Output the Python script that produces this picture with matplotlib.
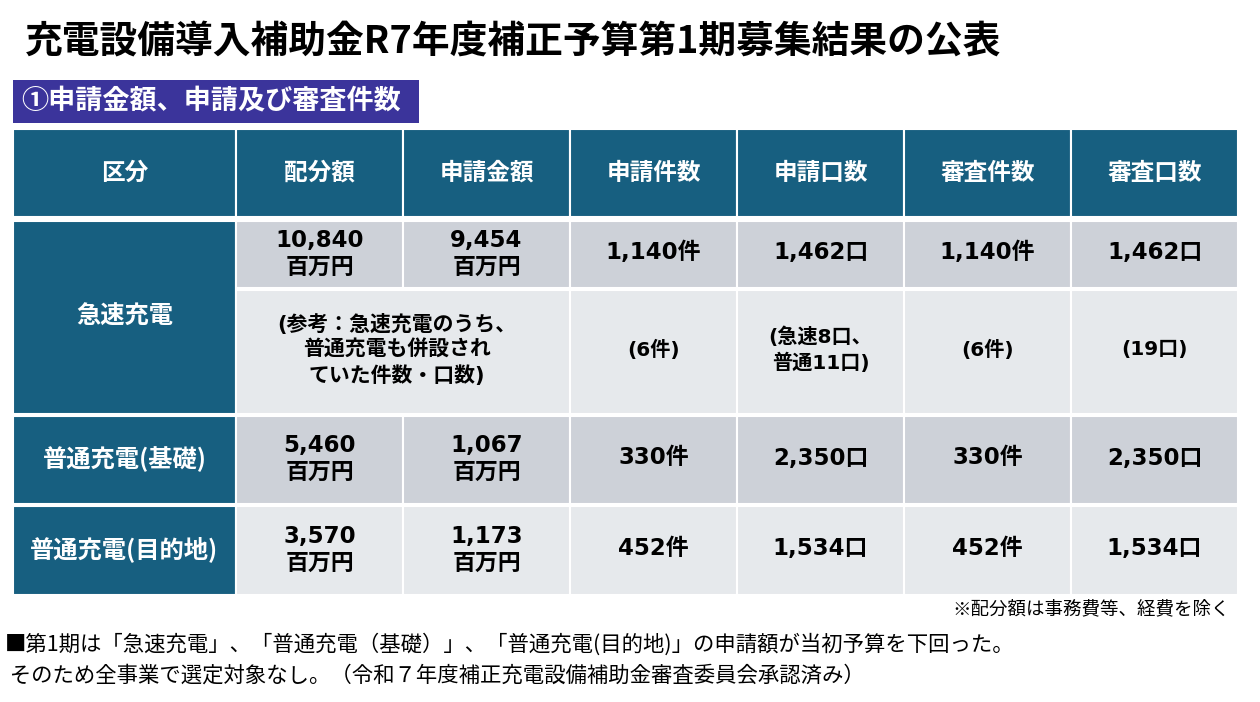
import matplotlib.pyplot as plt
from matplotlib.patches import Rectangle

# ---- data ----
title = "充電設備導入補助金R7年度補正予算第1期募集結果の公表"
section = "①申請金額、申請及び審査件数"
headers = ["区分", "配分額", "申請金額", "申請件数", "申請口数", "審査件数", "審査口数"]
row_labels = ["急速充電", "普通充電(基礎)", "普通充電(目的地)"]
unit = "百万円"
allocation = ["10,840", "5,460", "3,570"]
applied_amount = ["9,454", "1,067", "1,173"]
applied_cases = ["1,140件", "330件", "452件"]
applied_ports = ["1,462口", "2,350口", "1,534口"]
review_cases = ["1,140件", "330件", "452件"]
review_ports = ["1,462口", "2,350口", "1,534口"]
ref_label = ["(参考：急速充電のうち、", "普通充電も併設され", "ていた件数・口数)"]
ref_values = [["(6件)"], ["(急速8口、", "普通11口)"], ["(6件)"], ["(19口)"]]
note = "※配分額は事務費等、経費を除く"
footer = ["■第1期は「急速充電」、「普通充電（基礎）」、「普通充電(目的地)」の申請額が当初予算を下回った。",
          " そのため全事業で選定対象なし。（令和７年度補正充電設備補助金審査委員会承認済み）"]

# ---- layout (pixels) ----
col_edges = [13, 236, 403, 570, 737, 904, 1071, 1238]
header_rows = (129, 217)
row_spans = [(221, 288), (416, 504), (506, 595)]
ref_span = (290, 414)

TEAL = '#175f80'
PURPLE = '#3b349b'
GRAY_DARK = '#cdd1d8'
GRAY_LIGHT = '#e6e9ec'
BODY_FONT = ['DejaVu Sans', 'Noto Sans CJK JP']
CJK = ['Noto Sans CJK JP', 'DejaVu Sans']

fig = plt.figure(figsize=(12.6, 7.02), dpi=100)
ax = fig.add_axes([0, 0, 1, 1])
ax.set_xlim(0, 1260)
ax.set_ylim(702, 0)
ax.axis('off')


def cell(x0, x1, y0, y1, color):
    ax.add_patch(Rectangle((x0, y0), x1 - x0, y1 - y0, facecolor=color,
                           edgecolor='white', linewidth=1.5))


def lines(xc, yc, texts, size, gap, color='black', family=BODY_FONT):
    n = len(texts)
    for i, t in enumerate(texts):
        y = yc + (i - (n - 1) / 2) * gap
        ax.text(xc, y, t, ha='center', va='center', fontsize=size,
                fontweight='bold', color=color, family=family)


ax.text(25, 41, title, ha='left', va='center', fontsize=27.2, fontweight='bold',
        family=CJK, color='black')

ax.add_patch(Rectangle((13, 80), 406, 43, facecolor=PURPLE, edgecolor='none'))
ax.text(21, 100, section, ha='left', va='center', fontsize=19.5, fontweight='bold',
        family=CJK, color='white')

# header
for j, h in enumerate(headers):
    cell(col_edges[j], col_edges[j + 1], *header_rows, TEAL)
    lines((col_edges[j] + col_edges[j + 1]) / 2, sum(header_rows) / 2, [h], 17, 0,
          color='white', family=CJK)

# row label column
label_spans = [(row_spans[0][0], ref_span[1]), row_spans[1], row_spans[2]]
for (y0, y1), lab in zip(label_spans, row_labels):
    cell(col_edges[0], col_edges[1], y0, y1, TEAL)
    lines((col_edges[0] + col_edges[1]) / 2, (y0 + y1) / 2 - 1, [lab], 17.5, 0,
          color='white', family=CJK)

# data rows
row_colors = [GRAY_DARK, GRAY_DARK, GRAY_LIGHT]
columns = [allocation, applied_amount, applied_cases, applied_ports, review_cases, review_ports]
for i, (y0, y1) in enumerate(row_spans):
    yc = (y0 + y1) / 2
    for j, col in enumerate(columns):
        x0, x1 = col_edges[j + 1], col_edges[j + 2]
        cell(x0, x1, y0, y1, row_colors[i])
        if j < 2:
            lines((x0 + x1) / 2, yc - 1, [col[i], unit], 16.5, 27)
        else:
            lines((x0 + x1) / 2, yc - 2, [col[i]], 16.5, 0)

# reference row (fast charging, with normal charging also installed)
cell(col_edges[1], col_edges[3], *ref_span, GRAY_LIGHT)
lines((col_edges[1] + col_edges[3]) / 2 - 6, sum(ref_span) / 2 - 2, ref_label, 15, 26)
for j, vals in enumerate(ref_values):
    x0, x1 = col_edges[j + 3], col_edges[j + 4]
    cell(x0, x1, *ref_span, GRAY_LIGHT)
    lines((x0 + x1) / 2, sum(ref_span) / 2 - 2, vals, 14.5, 26)

ax.text(1230, 609, note, ha='right', va='center', fontsize=13.3, family=CJK)
ax.text(5, 645, footer[0], ha='left', va='center', fontsize=15.4, family=CJK)
ax.text(5, 676, footer[1], ha='left', va='center', fontsize=15.4, family=CJK)

fig.savefig('out.png', dpi=100)
